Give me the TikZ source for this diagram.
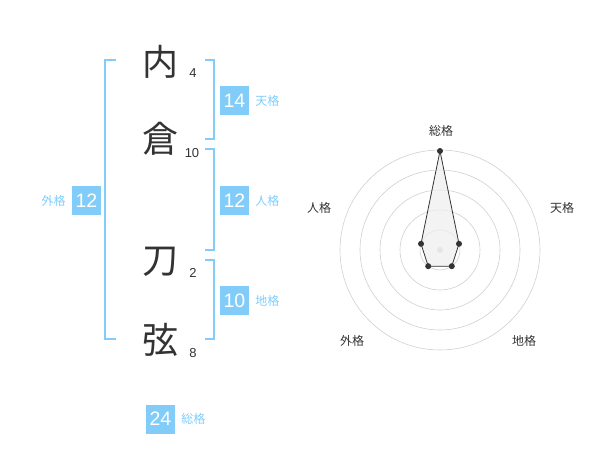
\documentclass[tikz,border=0pt]{standalone}
\usepackage{fontspec}
\setmainfont{Liberation Sans}
\newfontfamily\jpfont{Noto Sans CJK JP}
\usepackage{xcolor}
\usetikzlibrary{positioning,calc}
\definecolor{kakublue}{HTML}{82CCFA}
\definecolor{inkgray}{HTML}{333333}
\definecolor{ringgray}{HTML}{D0D0D0}
\definecolor{fillgray}{HTML}{EEEEEE}

\begin{document}
\begin{tikzpicture}[x=1pt,y=-1pt,
    kanji/.style={text=inkgray, font=\jpfont\fontsize{36}{36}\selectfont, inner sep=0pt},
    stroke/.style={text=inkgray, font=\fontsize{13}{13}\selectfont, inner sep=0pt},
    kakubox/.style={fill=kakublue, text=white, minimum size=29pt, inner sep=0pt, font=\fontsize{19.5}{19.5}\selectfont},
    kakuname/.style={text=kakublue, font=\jpfont\fontsize{12}{12}\selectfont, inner sep=0pt},
    bracket/.style={draw=kakublue, line width=1.6pt},
    axisname/.style={text=inkgray, font=\jpfont\fontsize{12}{12}\selectfont, inner sep=0pt},
    vertex/.style={circle, fill=inkgray, inner sep=0pt, minimum size=6pt}]
    \useasboundingbox (0,0) rectangle (600,470);

    % name characters and stroke counts
    \node[kanji] (c1) at (160,62) {内};
    \node[kanji] (c2) at (160,139) {倉};
    \node[kanji] (c3) at (160,262) {刀};
    \node[kanji] (c4) at (160,340) {弦};
    \node[stroke] (s1) at (193,73) {4};
    \node[stroke] (s2) at (192,153) {10};
    \node[stroke] (s3) at (193,273) {2};
    \node[stroke] (s4) at (193,353) {8};

    % brackets
    \draw[bracket] (116,60) -- (105,60) -- (105,339) -- (116,339);
    \draw[bracket] (205,60) -- (214,60) -- (214,139) -- (205,139);
    \draw[bracket] (205,149) -- (214,149) -- (214,250) -- (205,250);
    \draw[bracket] (205,260) -- (214,260) -- (214,339) -- (205,339);

    % five values
    \node[kakubox] (ten) at (234.5,100.5) {14};
    \node[kakuname, right=6pt of ten] (tenL) {天格};
    \node[kakubox] (jin) at (234.5,200.5) {12};
    \node[kakuname, right=6pt of jin] (jinL) {人格};
    \node[kakubox] (chi) at (234.5,300.5) {10};
    \node[kakuname, right=6pt of chi] (chiL) {地格};
    \node[kakubox] (gai) at (86.5,200.5) {12};
    \node[kakuname, left=6pt of gai] (gaiL) {外格};
    \node[kakubox] (sou) at (160.5,419) {24};
    \node[kakuname, right=6pt of sou] (souL) {総格};

    % radar chart
    \coordinate (O) at (440,250);
    \foreach \r in {20,40,60,80,100}
        \draw[ringgray, line width=0.6pt] (O) circle (\r);
    \fill[ringgray] (O) circle (3);
    \coordinate (pSou) at ($(O)+(0,-99)$);
    \coordinate (pTen) at ($(O)+(19,-6.2)$);
    \coordinate (pChi) at ($(O)+(11.8,16.2)$);
    \coordinate (pGai) at ($(O)+(-11.8,16.2)$);
    \coordinate (pJin) at ($(O)+(-19,-6.2)$);
    \draw[inkgray, fill=fillgray, fill opacity=0.7, line width=0.8pt]
        (pSou) -- (pTen) -- (pChi) -- (pGai) -- (pJin) -- cycle;
    \foreach \p in {pSou,pTen,pChi,pGai,pJin}
        \node[vertex] at (\p) {};
    \node[axisname] (aSou) at (441,131) {総格};
    \node[axisname] (aTen) at (562,208) {天格};
    \node[axisname] (aChi) at (524,341) {地格};
    \node[axisname] (aGai) at (352,341) {外格};
    \node[axisname] (aJin) at (319,208) {人格};
\end{tikzpicture}
\end{document}
